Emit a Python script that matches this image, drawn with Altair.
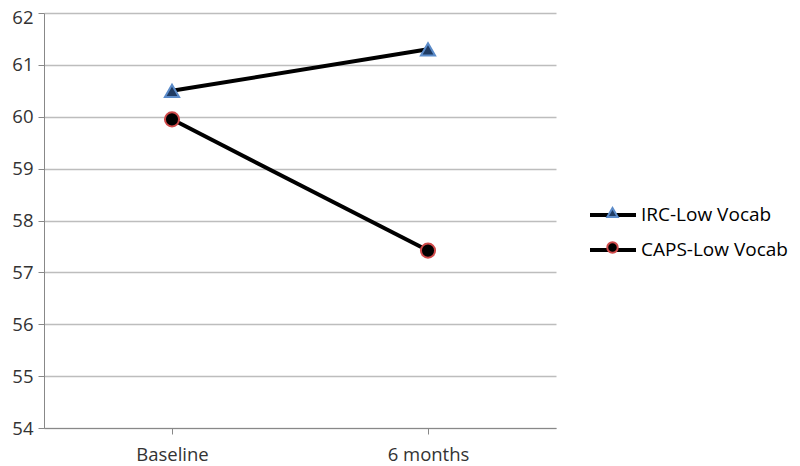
import altair as alt
import pandas as pd

timepoints = ["Baseline", "6 months"]
series_names = ["IRC-Low Vocab", "CAPS-Low Vocab"]
irc_values = [60.5, 61.3]
caps_values = [59.95, 57.42]
y_ticks = [54, 55, 56, 57, 58, 59, 60, 61, 62]

rows = []
for t, v in zip(timepoints, irc_values):
    rows.append({"time": t, "series": series_names[0], "value": v})
for t, v in zip(timepoints, caps_values):
    rows.append({"time": t, "series": series_names[1], "value": v})
df = pd.DataFrame(rows)
df["line_series"] = df["series"]

FONT = "Open Sans"
TXT = "#333333"
TOP = 5
LX, LY = 544, 182 - TOP

x = alt.X("time:N", sort=timepoints, title=None,
          scale=alt.Scale(paddingInner=0, paddingOuter=0),
          axis=alt.Axis(labelAngle=0, bandPosition=0, labelFontSize=18.5, labelFont=FONT,
                        labelColor=TXT, domainColor="#888888", tickColor="#888888",
                        tickSize=6, labelPadding=11, grid=False))
y = alt.Y("value:Q", title=None,
          scale=alt.Scale(domain=[54, 62], nice=False, zero=False),
          axis=alt.Axis(values=y_ticks, labelFontSize=18.5, labelFont=FONT, labelColor=TXT,
                        domainColor="#888888", tickColor="#888888", tickSize=6,
                        gridColor="#BDBDBD", gridWidth=1.3, labelPadding=5,
                        labelOffset={"condition": {"test": "datum.value == 62", "value": 4},
                                     "value": 0}))

lines = alt.Chart(df).mark_line(strokeWidth=4).encode(
    x=x, y=y,
    color=alt.Color("line_series:N", sort=series_names,
                    scale=alt.Scale(range=["#000000", "#000000"]),
                    legend=alt.Legend(title=None, orient="none", legendX=LX, legendY=LY,
                                      symbolType="stroke", symbolStrokeWidth=4, symbolSize=2116,
                                      labelFontSize=19, labelFont=FONT, labelColor="#000000",
                                      rowPadding=0, labelOffset=3)),
)

points = alt.Chart(df).mark_point(filled=True, size=200, strokeWidth=2, opacity=1).encode(
    x=x, y=y,
    shape=alt.Shape("series:N", sort=series_names,
                    scale=alt.Scale(domain=series_names, range=["triangle-up", "circle"]),
                    legend=alt.Legend(title=None, orient="none", legendX=LX + 18, legendY=LY + 16,
                                      symbolSize=110, symbolStrokeWidth=2, symbolOpacity=1,
                                      labelExpr="''", labelFontSize=1,
                                      rowPadding=16)),
    fill=alt.Fill("series:N", sort=series_names,
                  scale=alt.Scale(domain=series_names, range=["#1F3B63", "#000000"]),
                  legend=None),
    stroke=alt.Stroke("series:N", sort=series_names,
                      scale=alt.Scale(domain=series_names, range=["#5B8BC9", "#D04A4A"]),
                      legend=None),
)

chart = (lines + points).properties(
    width=512, height=420 - TOP,
    autosize=alt.AutoSizeParams(type="none"),
    padding={"left": 36, "top": TOP, "right": 236, "bottom": 50},
).configure_view(stroke=None)

chart.save("out.html", embed_options={"renderer": "svg", "actions": False})
